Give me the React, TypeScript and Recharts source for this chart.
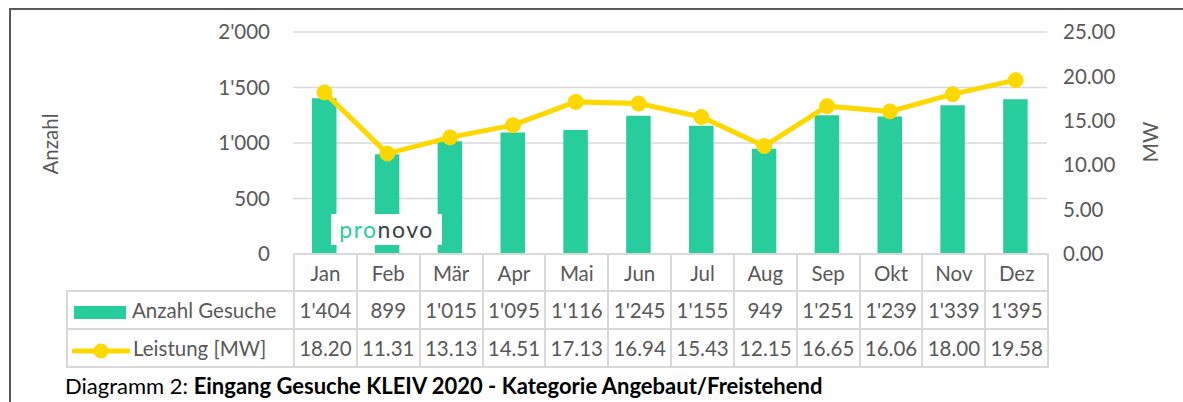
import React from 'react'
import { ComposedChart, Bar, Line, XAxis, YAxis, CartesianGrid } from 'recharts'

const months = ['Jan', 'Feb', 'Mär', 'Apr', 'Mai', 'Jun', 'Jul', 'Aug', 'Sep', 'Okt', 'Nov', 'Dez']
const anzahlGesuche = [1404, 899, 1015, 1095, 1116, 1245, 1155, 949, 1251, 1239, 1339, 1395]
const leistungMW = [18.2, 11.31, 13.13, 14.51, 17.13, 16.94, 15.43, 12.15, 16.65, 16.06, 18.0, 19.58]
const leftTicks = [0, 500, 1000, 1500, 2000]
const rightTicks = [0, 5, 10, 15, 20, 25]

const GREEN = '#27cd9d'
const YELLOW = '#fdd800'
const GREY_TEXT = '#595959'
const GRID = '#d9d9d9'
const FONT = 'Lato, "Open Sans", sans-serif'

const swiss = (v: number) => String(v).replace(/\B(?=(\d{3})+(?!\d))/g, "'")

const data = months.map((m, i) => ({ month: m, anzahl: anzahlGesuche[i], leistung: leistungMW[i] }))

const cell: React.CSSProperties = {
  border: `2px solid ${GRID}`,
  textAlign: 'center',
  padding: 0,
  color: GREY_TEXT,
}

export default function App() {
  return (
    <div style={{ position: 'absolute', left: 0, top: 0, width: 1183, height: 402, background: '#fff', overflow: 'hidden', fontFamily: FONT }}>
      {/* outer frame (left + top visible) */}
      <div style={{ position: 'absolute', left: 9, top: 8, width: 1300, height: 500, borderLeft: '2px solid #595959', borderTop: '2px solid #595959' }} />

      <div style={{ position: 'absolute', left: 0, top: 0 }}>
        <ComposedChart width={1183} height={402} data={data} margin={{ top: 32, right: 0, bottom: 148, left: 0 }} barSize={24.5}>
          <CartesianGrid yAxisId="left" vertical={false} stroke={GRID} strokeWidth={1.5} />
          <XAxis dataKey="month" hide />
          <YAxis yAxisId="left" orientation="left" width={293} domain={[0, 2000]} ticks={leftTicks}
            tickFormatter={swiss} axisLine={false} tickLine={false} tickSize={0} tickMargin={23}
            tick={{ fill: GREY_TEXT, fontSize: 20.5, fontFamily: FONT }} />
          <YAxis yAxisId="right" orientation="right" width={136} domain={[0, 25]} ticks={rightTicks}
            tickFormatter={(v: number) => v.toFixed(2)} axisLine={false} tickLine={false} tickSize={0} tickMargin={16}
            tick={{ fill: GREY_TEXT, fontSize: 20.5, fontFamily: FONT }} />
          <Bar yAxisId="left" dataKey="anzahl" fill={GREEN} isAnimationActive={false} />
          <Line yAxisId="right" dataKey="leistung" stroke={YELLOW} strokeWidth={5} isAnimationActive={false}
            dot={{ r: 7.5, fill: YELLOW, stroke: YELLOW, strokeWidth: 1 }} activeDot={false} />
        </ComposedChart>
      </div>

      {/* axis titles */}
      <div style={{ position: 'absolute', left: 50, top: 144, transform: 'translate(-50%, -50%) rotate(-90deg)', fontSize: 20.5, color: GREY_TEXT, whiteSpace: 'nowrap' }}>Anzahl</div>
      <div style={{ position: 'absolute', left: 1150, top: 142, transform: 'translate(-50%, -50%) rotate(-90deg)', fontSize: 20.5, color: GREY_TEXT, whiteSpace: 'nowrap' }}>MW</div>

      {/* logo */}
      <div style={{ position: 'absolute', left: 331, top: 214, width: 111, height: 31, background: '#fff', display: 'flex', alignItems: 'center', justifyContent: 'center', fontSize: 23, letterSpacing: 1.5, lineHeight: 1 }}>
        <span style={{ color: GREEN }}>pro</span><span style={{ color: '#3b404a' }}>novo</span>
      </div>

      {/* data table */}
      <table style={{ position: 'absolute', left: 66, top: 253, borderCollapse: 'collapse', tableLayout: 'fixed', fontSize: 20.5, fontFamily: FONT }}>
        <colgroup>
          <col style={{ width: 227 }} />
          {months.map(m => <col key={m} style={{ width: 62.85 }} />)}
        </colgroup>
        <tbody>
          <tr style={{ height: 37 }}>
            <td style={{ ...cell, border: 'none' }} />
            {months.map(m => <td key={m} style={cell}>{m}</td>)}
          </tr>
          <tr style={{ height: 38 }}>
            <td style={{ ...cell, textAlign: 'left', whiteSpace: 'nowrap' }}>
              <span style={{ display: 'inline-block', width: 52, height: 13, background: GREEN, marginLeft: 6, marginRight: 6, verticalAlign: 'middle' }} />
              Anzahl Gesuche
            </td>
            {anzahlGesuche.map((v, i) => <td key={i} style={cell}>{swiss(v)}</td>)}
          </tr>
          <tr style={{ height: 38 }}>
            <td style={{ ...cell, textAlign: 'left', whiteSpace: 'nowrap' }}>
              <svg width={58} height={18} style={{ marginLeft: 4, marginRight: 3, verticalAlign: 'middle' }}>
                <line x1={2} y1={9} x2={56} y2={9} stroke={YELLOW} strokeWidth={5} strokeLinecap="round" />
                <circle cx={29} cy={9} r={7.5} fill={YELLOW} />
              </svg>
              Leistung [MW]
            </td>
            {leistungMW.map((v, i) => <td key={i} style={cell}>{v.toFixed(2)}</td>)}
          </tr>
        </tbody>
      </table>

      {/* caption */}
      <div style={{ position: 'absolute', left: 65, top: 373, fontSize: 22, color: '#000', whiteSpace: 'nowrap', lineHeight: '26px' }}>
        Diagramm 2: <b>Eingang Gesuche KLEIV 2020 - Kategorie Angebaut/Freistehend</b>
      </div>
    </div>
  )
}
